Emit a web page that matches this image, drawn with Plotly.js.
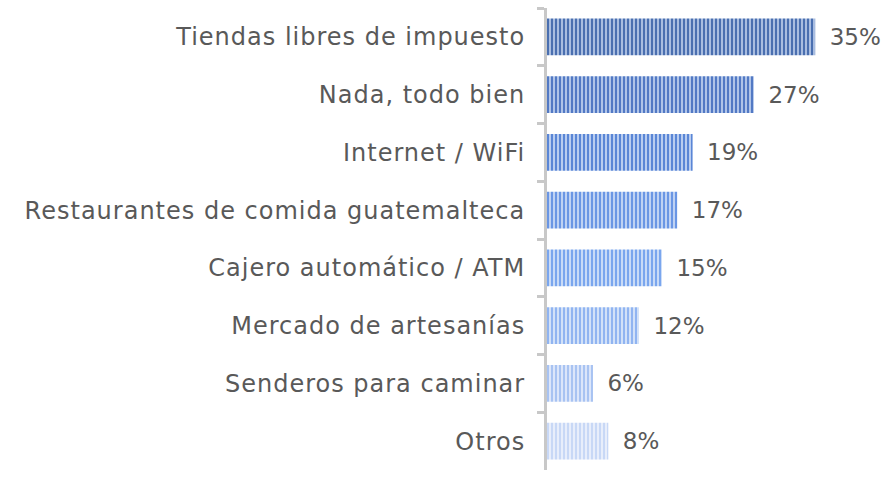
<!DOCTYPE html>
<html>
<head>
<meta charset="utf-8">
<script src="https://cdn.plot.ly/plotly-3.0.1.min.js"></script>
<style>
html,body{margin:0;padding:0;background:#fff;}
#chart{width:885px;height:477px;}
#chart .ytick text{letter-spacing:1px;}
</style>
</head>
<body>
<div id="chart"></div>
<script>
var categories = ["Tiendas libres de impuesto", "Nada, todo bien", "Internet / WiFi", "Restaurantes de comida guatemalteca", "Cajero automático / ATM", "Mercado de artesanías", "Senderos para caminar", "Otros"];
var values = [35, 27, 19, 17, 15, 12, 6, 8];
var stripeDark = ["#4a6fb0", "#5279c4", "#5a86d6", "#6a96e4", "#7aa6ee", "#90b4f1", "#a8c3f2", "#c8d8f6"];
var stripeLight = ["#a9bde0", "#b0c4e8", "#b9cdf0", "#bfd2f3", "#c9dbf7", "#d2e1f8", "#dce6fa", "#e8eefb"];

var trace = {
  type: "bar",
  orientation: "h",
  y: categories,
  x: values,
  text: values.map(function(v){ return "\u2002" + v + "%"; }),
  textposition: "outside",
  textfont: {family: "DejaVu Sans", size: 23, color: "#595959"},
  cliponaxis: false,
  marker: {color: stripeDark, line: {width: 0}},
  hoverinfo: "none"
};

var layout = {
  width: 885, height: 477,
  margin: {l: 547, r: 20, t: 8, b: 7},
  paper_bgcolor: "#ffffff", plot_bgcolor: "#ffffff",
  showlegend: false,
  bargap: 0.36,
  xaxis: {range: [0, 41.5], visible: false, fixedrange: true},
  yaxis: {
    type: "category",
    autorange: "reversed",
    tickson: "boundaries",
    ticks: "outside",
    ticklen: 7,
    tickwidth: 3,
    tickcolor: "#c8c8c8",
    showline: true,
    linecolor: "#c8c8c8",
    linewidth: 3,
    showgrid: false,
    zeroline: false,
    automargin: false,
    ticklabelstandoff: 14,
    tickfont: {family: "DejaVu Sans", size: 24, color: "#595959"}
  }
};

Plotly.newPlot("chart", [trace], layout, {displayModeBar: false, staticPlot: true}).then(function(gd){
  var NS = "http://www.w3.org/2000/svg";
  var svg = gd.querySelector(".main-svg");
  var defs = svg.querySelector("defs");
  if (!defs) { defs = document.createElementNS(NS, "defs"); svg.insertBefore(defs, svg.firstChild); }
  var paths = gd.querySelectorAll(".barlayer .trace .point path");
  paths.forEach(function(p, i){
    var pat = document.createElementNS(NS, "pattern");
    pat.setAttribute("id", "stripe" + i);
    pat.setAttribute("patternUnits", "userSpaceOnUse");
    pat.setAttribute("width", "4");
    pat.setAttribute("height", "10");
    var bg = document.createElementNS(NS, "rect");
    bg.setAttribute("width", "4"); bg.setAttribute("height", "10");
    bg.setAttribute("fill", stripeLight[i]);
    var fg = document.createElementNS(NS, "rect");
    fg.setAttribute("x", "0"); fg.setAttribute("width", "2"); fg.setAttribute("height", "10");
    fg.setAttribute("fill", stripeDark[i]);
    pat.appendChild(bg); pat.appendChild(fg);
    defs.appendChild(pat);
    p.style.fill = "url(#stripe" + i + ")";
  });
});
</script>
</body>
</html>
